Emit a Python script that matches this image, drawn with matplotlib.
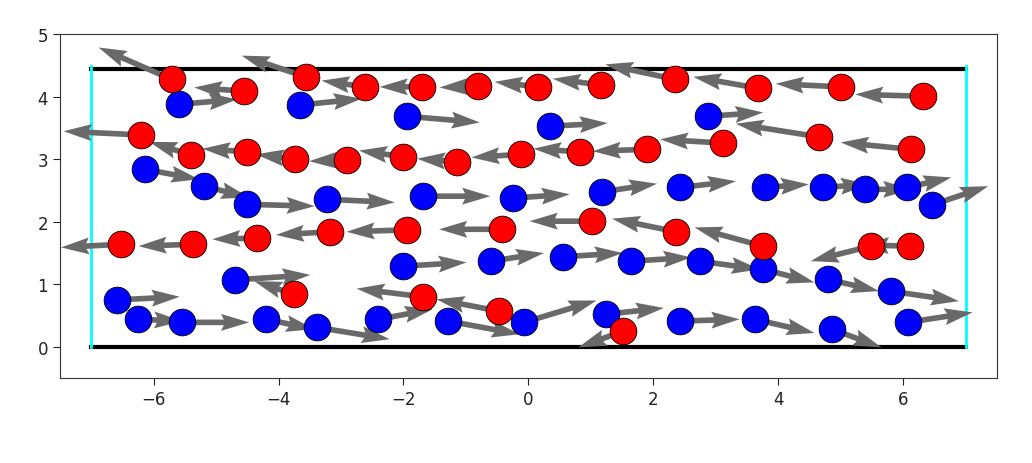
import numpy as np
import matplotlib
matplotlib.use('Agg')
import matplotlib.pyplot as plt

# walls of the box
WALL_X = [-7, 7]
WALL_TOP = 4.45
SIDE_TOP = 4.5

# red particles: position and velocity
red_x = [-5.71, -4.55, -3.56, -2.62, -1.71, -0.81, 0.15, 1.16, 2.35, 3.67, 5.00, 6.31,
         -6.20, -5.40, -4.50, -3.73, -2.90, -2.00, -1.15, -0.12, 0.83, 1.90, 3.12, 4.65, 6.12,
         -6.52, -5.37, -4.34, -3.17, -1.95, -0.43, 1.02, 2.37, 3.75, 5.48, 6.11,
         -3.75, -1.69, -0.47, 1.52]
red_y = [4.28, 4.09, 4.32, 4.16, 4.16, 4.17, 4.16, 4.19, 4.28, 4.14, 4.16, 4.01,
         3.39, 3.07, 3.12, 3.00, 2.99, 3.04, 2.96, 3.08, 3.12, 3.16, 3.26, 3.36, 3.16,
         1.64, 1.64, 1.74, 1.84, 1.87, 1.88, 2.01, 1.84, 1.61, 1.61, 1.61,
         0.84, 0.80, 0.57, 0.25]
red_u = [-1.17, -0.80, -1.03, -0.69, -0.67, -0.61, -0.69, -0.77, -1.12, -1.03, -1.04, -1.08,
         -1.24, -0.67, -0.72, -0.63, -0.61, -0.71, -0.63, -0.79, -0.75, -0.87, -1.01, -1.33, -1.12,
         -0.96, -0.87, -0.72, -0.87, -0.96, -1.00, -1.00, -1.03, -1.09, -0.96, -0.79,
         -0.64, -1.06, -1.00, -0.72]
red_v = [0.51, 0.06, 0.34, 0.10, 0.00, -0.02, 0.08, 0.10, 0.24, 0.18, 0.05, 0.03,
         0.06, 0.21, 0.05, 0.08, -0.02, 0.10, 0.05, -0.05, 0.05, -0.03, 0.06, 0.21, 0.11,
         -0.05, -0.03, -0.02, -0.05, -0.03, 0.00, 0.00, 0.21, 0.30, -0.24, 0.02,
         0.21, 0.13, 0.19, -0.26]

# blue particles: position and velocity
blue_x = [-5.59, -3.65, -1.95, 0.35, 2.88,
          -6.14, -5.19, -4.50, -3.22, -1.69, -0.25, 1.18, 2.42, 3.78, 4.71, 5.39, 6.06, 6.46,
          -2.00, -0.60, 0.55, 1.65, 2.74, 3.76, 4.79, 5.80, -4.69,
          -6.59, -6.25, -5.55, -4.20, -3.38, -2.40, -1.28, -0.07, 1.24, 2.42, 3.62, 4.86, 6.07]
blue_y = [3.88, 3.87, 3.69, 3.53, 3.69,
          2.84, 2.57, 2.28, 2.36, 2.41, 2.38, 2.48, 2.55, 2.55, 2.55, 2.52, 2.55, 2.27,
          1.29, 1.37, 1.44, 1.37, 1.37, 1.24, 1.08, 0.89, 1.07,
          0.75, 0.44, 0.39, 0.44, 0.31, 0.44, 0.41, 0.39, 0.52, 0.41, 0.44, 0.28, 0.39]
blue_u = [0.93, 0.98, 1.17, 0.92, 0.88,
          0.87, 0.72, 1.08, 1.08, 1.08, 0.91, 0.88, 0.90, 0.71, 0.74, 0.74, 0.71, 0.90,
          1.01, 0.85, 0.96, 0.96, 0.96, 0.82, 0.82, 1.09, 1.20,
          1.01, 0.71, 1.08, 0.77, 1.16, 0.87, 1.14, 1.16, 0.93, 0.96, 0.96, 0.79, 1.04]
blue_v = [0.08, 0.10, -0.10, 0.05, 0.06,
          -0.16, -0.18, -0.03, -0.05, 0.00, 0.06, 0.13, 0.10, 0.05, 0.05, 0.00, 0.16, 0.30,
          0.06, 0.13, 0.06, 0.06, -0.13, -0.21, -0.19, -0.16, 0.08,
          0.05, -0.03, 0.00, -0.16, -0.19, 0.16, -0.21, 0.35, 0.10, 0.03, -0.22, -0.29, 0.16]

fig = plt.figure(figsize=(10.32, 4.64), dpi=100)
ax = fig.add_axes([0.058, 0.183, 0.908, 0.741])

# box
ax.plot(WALL_X, [0, 0], color='black', lw=3, zorder=1)
ax.plot(WALL_X, [WALL_TOP, WALL_TOP], color='black', lw=3, zorder=1)
for wx in WALL_X:
    ax.plot([wx, wx], [0, SIDE_TOP], color='cyan', lw=2, zorder=1)

# velocities
all_x = np.concatenate([blue_x, red_x])
all_y = np.concatenate([blue_y, red_y])
all_u = np.concatenate([blue_u, red_u])
all_v = np.concatenate([blue_v, red_v])
ax.quiver(all_x, all_y, all_u, all_v, angles='xy', scale_units='xy', scale=1,
          color='dimgray', width=0.006, zorder=2)

# particles
ax.scatter(blue_x, blue_y, s=370, c='blue', edgecolors='black', linewidths=0.6, zorder=3)
ax.scatter(red_x, red_y, s=370, c='red', edgecolors='black', linewidths=0.6, zorder=4)

ax.set_xlim(-7.5, 7.5)
ax.set_ylim(-0.5, 5)
ax.set_aspect('equal')
ax.set_xticks([-6, -4, -2, 0, 2, 4, 6])
ax.set_yticks([0, 1, 2, 3, 4, 5])
ax.tick_params(labelsize=12, length=5, colors='#222222')
for sp in ax.spines.values():
    sp.set_color('#333333')

fig.savefig('out.png', dpi=100)
